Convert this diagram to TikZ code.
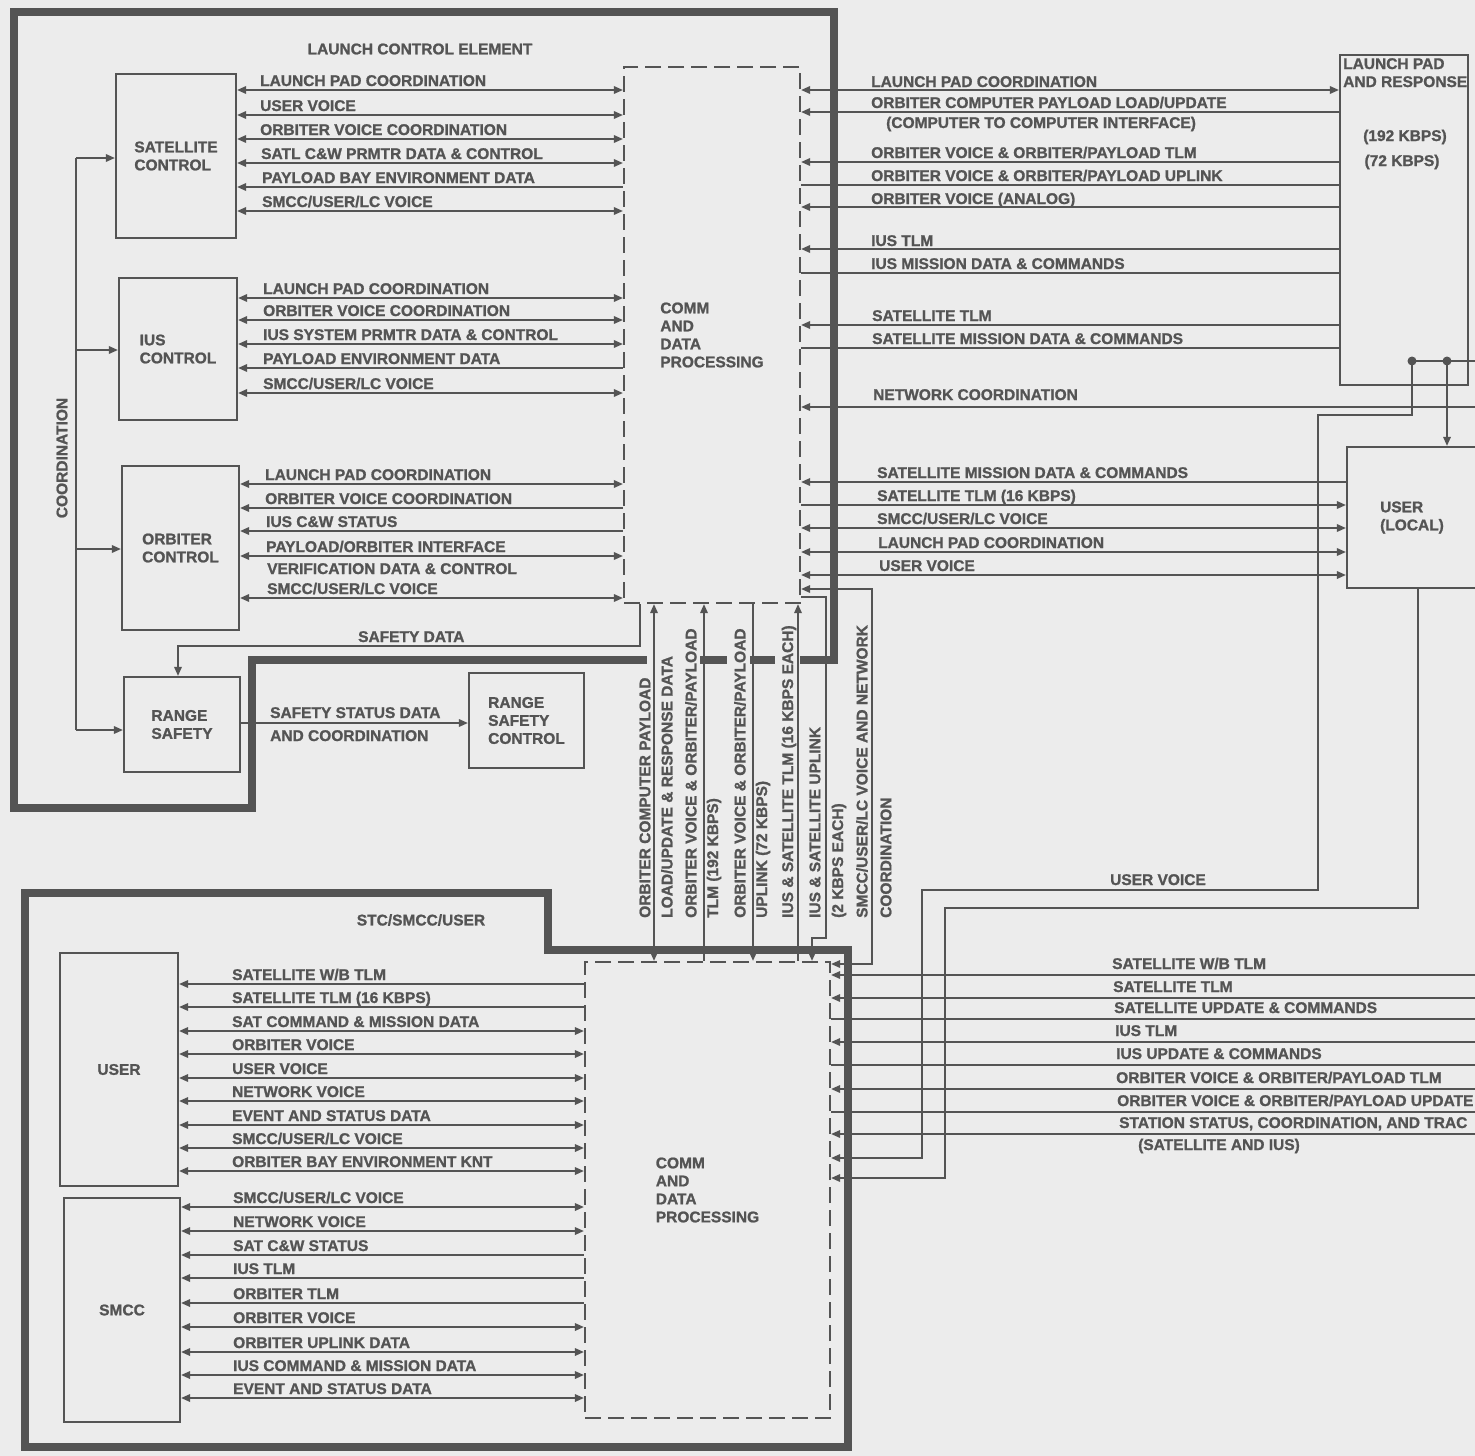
\documentclass[tikz,border=0pt]{standalone}
\usepackage{fontspec}
\setmainfont{Liberation Sans}[FakeBold=1.2]
\usetikzlibrary{arrows.meta}
\definecolor{ink}{RGB}{84,84,84}
\definecolor{paper}{RGB}{236,236,236}
\newcounter{lbc}
\newcommand\tlab[3]{\stepcounter{lbc}\node[lbl,anchor=base west] (lb\arabic{lbc}) at (#1,#2) {#3};}
\newcommand\vtlab[2]{\stepcounter{lbc}\node[lbl,rotate=90,anchor=west] (lb\arabic{lbc}) at (#1,918) {#2};}
\newcommand\hwire[4]{\draw[wire,#1] (#2 |- 0,#4) -- (#3 |- 0,#4);}
\begin{document}
\begin{tikzpicture}[x=1pt,y=-1pt,line join=miter,
 lbl/.style={font=\fontsize{15.5}{18}\selectfont\bfseries, text=ink, inner sep=0pt},
 blk/.style={draw=ink, line width=2.2pt, font=\fontsize{15.5}{18}\selectfont\bfseries, text=ink, align=left, inner sep=0pt},
 dblk/.style={blk, dash pattern=on 16pt off 7pt},
 wire/.style={draw=ink, line width=1.7pt},
 wall/.style={draw=ink, line width=7.5pt},
 >={Triangle[length=9pt,width=7.5pt]}]
\path[use as bounding box] (0,0) rectangle (1475,1456);
\fill[paper] (0,0) rectangle (1475,1456);
\clip (0,0) rectangle (1475,1456);

% ---------- boxes ----------
\node[blk,minimum width=120pt,minimum height=164pt] (sc) at (176,156) {SATELLITE\\CONTROL};
\node[blk,minimum width=118pt,minimum height=142pt] (ius) at (178,349) {IUS\\CONTROL};
\node[blk,minimum width=117pt,minimum height=164pt] (orb) at (180.5,548) {ORBITER\\CONTROL};
\node[blk,minimum width=116pt,minimum height=95pt] (rs) at (182,724.5) {RANGE\\SAFETY};
\node[blk,minimum width=115pt,minimum height=95pt] (rsc) at (526.5,720.5) {RANGE\\SAFETY\\CONTROL};
\node[dblk,minimum width=176pt,minimum height=536pt] (cdp1) at (712,335) {COMM\\AND\\DATA\\PROCESSING};
\node[blk,minimum width=128pt,minimum height=330pt] (lpr) at (1404,220) {};
\node[blk,minimum width=130pt,minimum height=141pt] (ul) at (1412,517.5) {USER\\(LOCAL)};
\node[blk,minimum width=118pt,minimum height=233pt] (usr) at (119,1069.5) {USER};
\node[blk,minimum width=116pt,minimum height=224pt] (smcc) at (122,1310) {SMCC};
\node[dblk,minimum width=245pt,minimum height=456pt] (cdp2) at (707.5,1190) {COMM\\AND\\DATA\\PROCESSING};

\node[lbl,anchor=north west,align=left] (lprt) at (1343,58) {LAUNCH PAD\\AND RESPONSE};
\node[lbl] (k192) at (1405,137) {(192 KBPS)};
\node[lbl] (k72) at (1402,162) {(72 KBPS)};
\node[lbl] (t1) at (420,49) {LAUNCH CONTROL ELEMENT};
\node[lbl] (t2) at (421,920) {STC/SMCC/USER};

% ---------- coordination ----------
\coordinate (c1) at (76,158);
\coordinate (c2) at (76,350);
\coordinate (c3) at (76,549);
\coordinate (c4) at (76,730);
\draw[wire] (c1) -- (c4);
\draw[wire,->] (c1) -- (sc.west |- c1);
\draw[wire,->] (c2) -- (ius.west |- c2);
\draw[wire,->] (c3) -- (orb.west |- c3);
\draw[wire,->] (c4) -- (rs.west |- c4);
\node[lbl,rotate=90] (coordlbl) at (62,458) {COORDINATION};

% ---------- satellite control ----------
\hwire{<->}{sc.east}{cdp1.west}{90}  \tlab{260}{86}{LAUNCH PAD COORDINATION}
\hwire{<->}{sc.east}{cdp1.west}{115} \tlab{260}{111}{USER VOICE}
\hwire{<->}{sc.east}{cdp1.west}{139} \tlab{260}{135}{ORBITER VOICE COORDINATION}
\hwire{<->}{sc.east}{cdp1.west}{163} \tlab{261}{159}{SATL C\&W PRMTR DATA \& CONTROL}
\hwire{<-}{sc.east}{cdp1.west}{187}  \tlab{262}{183}{PAYLOAD BAY ENVIRONMENT DATA}
\hwire{<->}{sc.east}{cdp1.west}{211} \tlab{262}{207}{SMCC/USER/LC VOICE}

% ---------- IUS control ----------
\hwire{<->}{ius.east}{cdp1.west}{298} \tlab{263}{294}{LAUNCH PAD COORDINATION}
\hwire{<->}{ius.east}{cdp1.west}{320} \tlab{263}{316}{ORBITER VOICE COORDINATION}
\hwire{<->}{ius.east}{cdp1.west}{344} \tlab{263}{340}{IUS SYSTEM PRMTR DATA \& CONTROL}
\hwire{<-}{ius.east}{cdp1.west}{368}  \tlab{263}{364}{PAYLOAD ENVIRONMENT DATA}
\hwire{<->}{ius.east}{cdp1.west}{393} \tlab{263}{389}{SMCC/USER/LC VOICE}

% ---------- orbiter control ----------
\hwire{<->}{orb.east}{cdp1.west}{484} \tlab{265}{480}{LAUNCH PAD COORDINATION}
\hwire{<-}{orb.east}{cdp1.west}{508}  \tlab{265}{504}{ORBITER VOICE COORDINATION}
\hwire{<-}{orb.east}{cdp1.west}{531}  \tlab{266}{527}{IUS C\&W STATUS}
\hwire{<->}{orb.east}{cdp1.west}{556} \tlab{266}{552}{PAYLOAD/ORBITER INTERFACE}
\tlab{267}{574}{VERIFICATION DATA \& CONTROL}
\hwire{<->}{orb.east}{cdp1.west}{598} \tlab{267}{594}{SMCC/USER/LC VOICE}

% ---------- range safety ----------
\draw[wire,->] (cdp1.south -| 640,0) -- (640,646) -- (178,646) -- (rs.north -| 178,0);
\tlab{358}{642}{SAFETY DATA}
\hwire{->}{rs.east}{rsc.west}{723}
\tlab{270}{718}{SAFETY STATUS DATA}
\tlab{270}{741}{AND COORDINATION}

% ---------- launch pad and response ----------
\hwire{<->}{cdp1.east}{lpr.west}{90}  \tlab{871}{87}{LAUNCH PAD COORDINATION}
\hwire{<-}{cdp1.east}{lpr.west}{112}  \tlab{871}{108}{ORBITER COMPUTER PAYLOAD LOAD/UPDATE}
\tlab{886}{128}{(COMPUTER TO COMPUTER INTERFACE)}
\hwire{<-}{cdp1.east}{lpr.west}{162}  \tlab{871}{158}{ORBITER VOICE \& ORBITER/PAYLOAD TLM}
\hwire{-}{cdp1.east}{lpr.west}{185}   \tlab{871}{181}{ORBITER VOICE \& ORBITER/PAYLOAD UPLINK}
\hwire{<-}{cdp1.east}{lpr.west}{207}  \tlab{871}{204}{ORBITER VOICE (ANALOG)}
\hwire{<-}{cdp1.east}{lpr.west}{249}  \tlab{871}{246}{IUS TLM}
\hwire{-}{cdp1.east}{lpr.west}{273}   \tlab{871}{269}{IUS MISSION DATA \& COMMANDS}
\hwire{<-}{cdp1.east}{lpr.west}{325}  \tlab{872}{321}{SATELLITE TLM}
\hwire{-}{cdp1.east}{lpr.west}{348}   \tlab{872}{344}{SATELLITE MISSION DATA \& COMMANDS}
\coordinate (netend) at (1480,407);
\draw[wire,<-] (cdp1.east |- netend) -- (netend);
\tlab{873}{400}{NETWORK COORDINATION}

% ---------- user (local) ----------
\hwire{<-}{cdp1.east}{ul.west}{482}  \tlab{877}{478}{SATELLITE MISSION DATA \& COMMANDS}
\hwire{->}{cdp1.east}{ul.west}{505}  \tlab{877}{501}{SATELLITE TLM (16 KBPS)}
\hwire{<->}{cdp1.east}{ul.west}{528} \tlab{877}{524}{SMCC/USER/LC VOICE}
\hwire{<->}{cdp1.east}{ul.west}{552} \tlab{878}{548}{LAUNCH PAD COORDINATION}
\hwire{<->}{cdp1.east}{ul.west}{575} \tlab{879}{571}{USER VOICE}

\coordinate (d1) at (1412,361);
\coordinate (d2) at (1447,361);
\coordinate (lprR) at (1480,361);
\draw[wire] (d1) -- (lprR);
\draw[wire,->] (d2) -- (ul.north -| d2);
\fill[ink] (d1) circle (4.5pt);
\fill[ink] (d2) circle (4.5pt);
\draw[wire,->] (d1) -- (1412,415) -- (1318,415) -- (1318,890) -- (922,890) -- (922,1158) -- (cdp2.east |- 0,1158);
\tlab{1110}{885}{USER VOICE}
\draw[wire,->] (ul.south -| 1418,0) -- (1418,908) -- (945,908) -- (945,1178) -- (cdp2.east |- 0,1178);

% ---------- links between the two CDP ----------
\draw[wire,<->] (cdp1.south -| 654,0) -- (cdp2.north -| 654,0);
\draw[wire,->] (cdp2.north -| 704,0) -- (cdp1.south -| 704,0);
\draw[wire,->] (cdp1.south -| 753,0) -- (cdp2.north -| 753,0);
\draw[wire,->] (cdp2.north -| 798,0) -- (cdp1.south -| 798,0);
\draw[wire,->] (cdp1.east |- 0,597) -- (826,597) -- (826,938) -- (812,938) -- (cdp2.north -| 812,0);
\draw[wire,<->] (cdp1.east |- 0,589) -- (872,589) -- (872,964) -- (cdp2.east |- 0,964);
\vtlab{645}{ORBITER COMPUTER PAYLOAD}
\vtlab{667}{LOAD/UPDATE \& RESPONSE DATA}
\vtlab{691}{ORBITER VOICE \& ORBITER/PAYLOAD}
\vtlab{714}{TLM (192 KBPS)}
\vtlab{740}{ORBITER VOICE \& ORBITER/PAYLOAD}
\vtlab{763}{UPLINK (72 KBPS)}
\vtlab{789}{IUS \& SATELLITE TLM (16 KBPS EACH)}
\vtlab{815}{IUS \& SATELLITE UPLINK}
\vtlab{839}{(2 KBPS EACH)}
\vtlab{862}{SMCC/USER/LC VOICE AND NETWORK}
\vtlab{886}{COORDINATION}

% ---------- STC/SMCC/USER : user ----------
\hwire{<-}{usr.east}{cdp2.west}{984}   \tlab{232}{980}{SATELLITE W/B TLM}
\hwire{<-}{usr.east}{cdp2.west}{1007}  \tlab{232}{1003}{SATELLITE TLM (16 KBPS)}
\hwire{<->}{usr.east}{cdp2.west}{1031} \tlab{232}{1027}{SAT COMMAND \& MISSION DATA}
\hwire{<->}{usr.east}{cdp2.west}{1054} \tlab{232}{1050}{ORBITER VOICE}
\hwire{<->}{usr.east}{cdp2.west}{1078} \tlab{232}{1074}{USER VOICE}
\hwire{<->}{usr.east}{cdp2.west}{1101} \tlab{232}{1097}{NETWORK VOICE}
\hwire{<->}{usr.east}{cdp2.west}{1125} \tlab{232}{1121}{EVENT AND STATUS DATA}
\hwire{<->}{usr.east}{cdp2.west}{1148} \tlab{232}{1144}{SMCC/USER/LC VOICE}
\hwire{<->}{usr.east}{cdp2.west}{1171} \tlab{232}{1167}{ORBITER BAY ENVIRONMENT KNT}

% ---------- STC/SMCC/USER : smcc ----------
\hwire{<->}{smcc.east}{cdp2.west}{1207} \tlab{233}{1203}{SMCC/USER/LC VOICE}
\hwire{<->}{smcc.east}{cdp2.west}{1231} \tlab{233}{1227}{NETWORK VOICE}
\hwire{<-}{smcc.east}{cdp2.west}{1255}  \tlab{233}{1251}{SAT C\&W STATUS}
\hwire{<-}{smcc.east}{cdp2.west}{1278}  \tlab{233}{1274}{IUS TLM}
\hwire{<-}{smcc.east}{cdp2.west}{1303}  \tlab{233}{1299}{ORBITER TLM}
\hwire{<->}{smcc.east}{cdp2.west}{1327} \tlab{233}{1323}{ORBITER VOICE}
\hwire{<->}{smcc.east}{cdp2.west}{1352} \tlab{233}{1348}{ORBITER UPLINK DATA}
\hwire{<->}{smcc.east}{cdp2.west}{1375} \tlab{233}{1371}{IUS COMMAND \& MISSION DATA}
\hwire{<->}{smcc.east}{cdp2.west}{1398} \tlab{233}{1394}{EVENT AND STATUS DATA}

% ---------- lines leaving to the right ----------
\coordinate (e1) at (1480,975);
\coordinate (e2) at (1480,998);
\coordinate (e3) at (1480,1019);
\coordinate (e4) at (1480,1042);
\coordinate (e5) at (1480,1065);
\coordinate (e6) at (1480,1089);
\coordinate (e7) at (1480,1112);
\coordinate (e8) at (1480,1134);
\draw[wire,<-] (cdp2.east |- e1) -- (e1); \tlab{1112}{969}{SATELLITE W/B TLM}
\draw[wire,<-] (cdp2.east |- e2) -- (e2); \tlab{1113}{992}{SATELLITE TLM}
\draw[wire] (cdp2.east |- e3) -- (e3);    \tlab{1114}{1013}{SATELLITE UPDATE \& COMMANDS}
\draw[wire,<-] (cdp2.east |- e4) -- (e4); \tlab{1115}{1036}{IUS TLM}
\draw[wire] (cdp2.east |- e5) -- (e5);    \tlab{1116}{1059}{IUS UPDATE \& COMMANDS}
\draw[wire,<-] (cdp2.east |- e6) -- (e6); \tlab{1116}{1083}{ORBITER VOICE \& ORBITER/PAYLOAD TLM}
\draw[wire] (cdp2.east |- e7) -- (e7);    \tlab{1117}{1106}{ORBITER VOICE \& ORBITER/PAYLOAD UPDATE}
\draw[wire,<-] (cdp2.east |- e8) -- (e8); \tlab{1119}{1128}{STATION STATUS, COORDINATION, AND TRAC}
\tlab{1138}{1150}{(SATELLITE AND IUS)}

% ---------- thick walls ----------
\draw[wall] (800,660) -- (834,660) -- (834,12) -- (14,12) -- (14,808) -- (252,808) -- (252,660) -- (647,660);
\draw[wall] (700,660) -- (727,660);
\draw[wall] (750,660) -- (775,660);
\draw[wall] (25,893) -- (548,893) -- (548,950) -- (848,950) -- (848,1447) -- (25,1447) -- cycle;
\end{tikzpicture}
\end{document}
